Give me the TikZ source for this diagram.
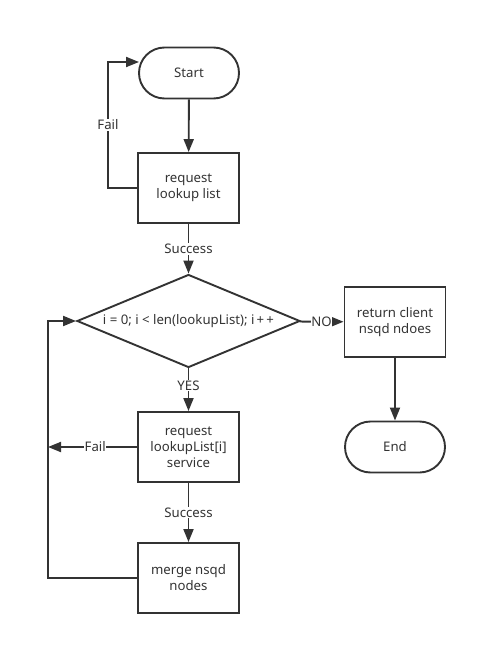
\documentclass[tikz,border=0pt]{standalone}
\usepackage{fontspec}
\setmainfont{Noto Sans}
\usetikzlibrary{shapes.geometric,shapes.misc,arrows.meta}
\definecolor{ink}{HTML}{333333}
\tikzset{
  every picture/.style={x=1bp,y=-1bp},
  base/.style={draw=ink,line width=1.9bp,text=ink,font=\fontsize{13.2bp}{16bp}\selectfont,align=center,inner sep=0pt},
  box/.style={base,rectangle,minimum width=101bp,minimum height=70bp},
  term/.style={base,rounded rectangle,minimum width=100bp,minimum height=51bp},
  dec/.style={base,diamond,aspect=2.4,minimum width=223bp,minimum height=93bp},
  conn/.style={draw=ink,line width=1.9bp,-{Triangle[length=13bp,width=10bp]}},
  lbl/.style={fill=white,text=ink,font=\fontsize{13.2bp}{14bp}\selectfont,inner sep=1bp}
}
\begin{document}
\begin{tikzpicture}
\useasboundingbox (0,0) rectangle (477,645);
\node[term] (start) at (189,73) {Start};
\node[box] (req) at (188.5,188) {request\\lookup list};
\node[dec] (dec) at (188.5,321) {i = 0; i < len(lookupList); i\,+\,+};
\node[box] (ret) at (395,322) {return client\\nsqd ndoes};
\node[term] (end) at (395,447) {End};
\node[box] (reqi) at (188.5,447) {request\\lookupList[i]\\service};
\node[box] (merge) at (188.5,578) {merge nsqd\\nodes};
\coordinate (f1a) at (108,188);
\coordinate (f1b) at (108,62);
\coordinate (f1c) at (139,62);
\coordinate (l1) at (48,447);
\coordinate (m1) at (48,578);
\coordinate (m2) at (48,321);
\draw[conn] (req.west) -- (f1a) -- node[lbl,pos=0.5]{Fail} (f1b) -- (f1c);
\draw[conn] (start) -- (req);
\draw[conn] (req) -- node[lbl]{Success} (dec);
\draw[conn] (dec) -- node[lbl,pos=0.4]{YES} (reqi);
\draw[conn] (dec) -- node[lbl,inner sep=0.5bp]{NO} (ret);
\draw[conn] (ret) -- (end);
\draw[conn] (reqi) -- node[lbl]{Success} (merge);
\draw[conn] (reqi.west) -- node[lbl,pos=0.47,inner sep=0.5bp]{Fail} (l1);
\draw[conn] (merge.west) -- (m1) -- (m2) -- (dec.west);
\end{tikzpicture}
\end{document}
